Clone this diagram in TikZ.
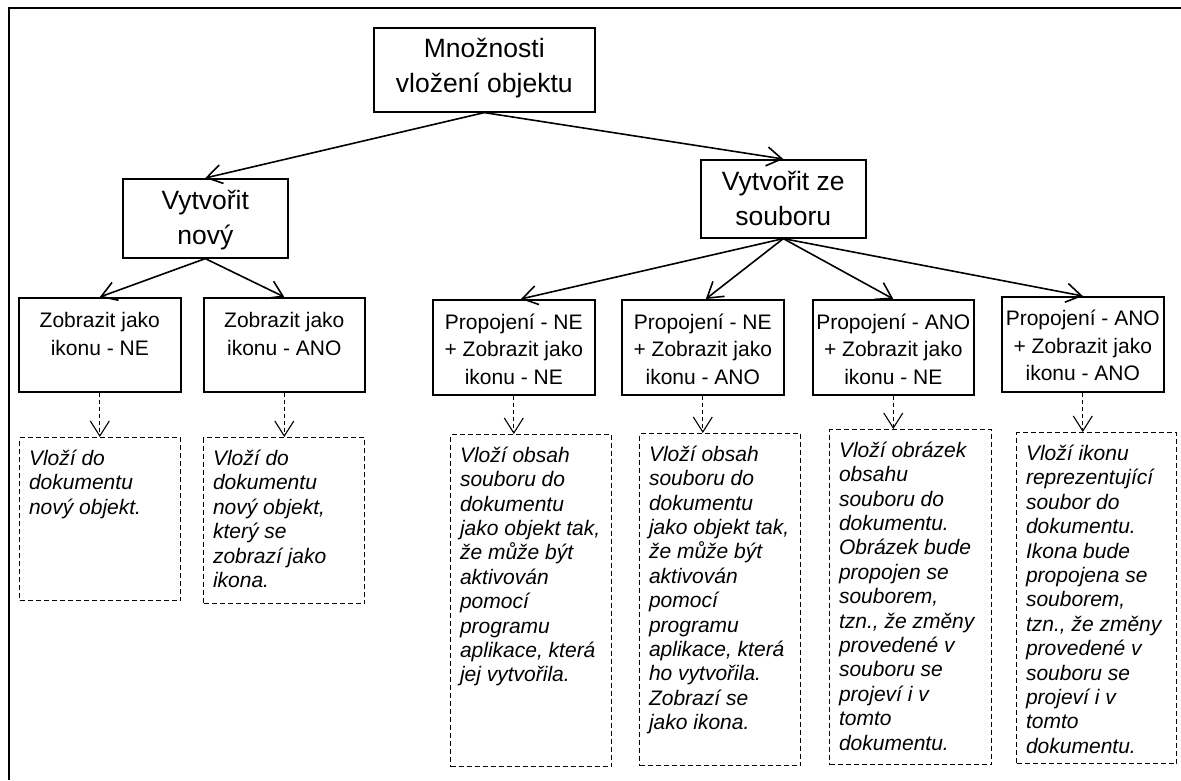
\documentclass[tikz,border=0pt]{standalone}
\usepackage{fontspec}
\setmainfont{Liberation Sans}
\usetikzlibrary{arrows.meta}

\newcommand{\boxtext}[4]{\parbox[c][#2pt][t]{#1pt}{\centering\rule{0pt}{#3pt}#4}}
\newcommand{\notetext}[4]{\parbox[c][#2pt][t]{#1pt}{\raggedright\leftskip=9.5pt\rule{0pt}{#3pt}#4}}

\begin{document}
\begin{tikzpicture}[x=1pt, y=-1pt, >={Straight Barb[length=15pt,width=19pt]},
      every node/.append style={anchor=north west,inner sep=0pt}]
    \tikzstyle{topic} = [draw,line width=1.6pt,font=\fontsize{26.5}{35}\selectfont]
    \tikzstyle{choice} = [draw,line width=1.6pt,font=\fontsize{21}{27.5}\selectfont]
    \tikzstyle{effect} = [draw,line width=1.1pt,dash pattern=on 5pt off 3pt,font=\fontsize{21}{24.4}\selectfont\itshape]
    \tikzstyle{link} = [->,line width=1.6pt]
    \tikzstyle{result} = [->,line width=1.1pt,dash pattern=on 4pt off 3pt]
    \useasboundingbox (0,0) rectangle (1181,780);
    \draw[line width=2.7pt] (9,780) -- (9,8) -- (1181,8);
    \node (root) [topic] at (373,27) {\boxtext{221}{84}{29.4}{Množnosti\\vložení objektu}};
    \node (new) [topic] at (122,178) {\boxtext{165}{79}{31}{Vytvořit\\nový}};
    \node (file) [topic] at (700,159) {\boxtext{165}{78}{30.3}{Vytvořit ze\\souboru}};
    \node (newplain) [choice] at (18,297) {\boxtext{162}{94}{29.7}{Zobrazit jako\\ikonu - NE}};
    \node (newicon) [choice] at (203,297) {\boxtext{161}{94}{29.7}{Zobrazit jako\\ikonu - ANO}};
    \node (fileplain) [choice] at (432,299) {\boxtext{162}{95}{29.3}{Propojení - NE\\+ Zobrazit jako\\ikonu - NE}};
    \node (fileicon) [choice] at (621,299) {\boxtext{162}{95}{29.3}{Propojení - NE\\+ Zobrazit jako\\ikonu - ANO}};
    \node (linkplain) [choice] at (812,299) {\boxtext{161}{95}{29.3}{Propojení - ANO\\+ Zobrazit jako\\ikonu - NE}};
    \node (linkicon) [choice] at (1001,296) {\boxtext{162}{95}{29}{Propojení - ANO\\+ Zobrazit jako\\ikonu - ANO}};
    \node (newplainnote) [effect] at (19,437) {\notetext{161}{163}{28}{Vloží do\\dokumentu\\nový objekt.}};
    \node (newiconnote) [effect] at (203,437) {\notetext{161}{166}{28}{Vloží do\\dokumentu\\nový objekt,\\který se\\zobrazí jako\\ikona.}};
    \node (fileplainnote) [effect] at (450,434) {\notetext{161}{332}{27.7}{Vloží obsah\\souboru do\\dokumentu\\jako objekt tak,\\že může být\\aktivován\\pomocí\\programu\\aplikace,  která\\jej vytvořila.}};
    \node (fileiconnote) [effect] at (639,433) {\notetext{161}{332}{27.7}{Vloží obsah\\souboru do\\dokumentu\\jako objekt tak,\\že může být\\aktivován\\pomocí\\programu\\aplikace, která\\ho vytvořila.\\Zobrazí se\\jako ikona.}};
    \node (linkplainnote) [effect] at (829,429) {\notetext{162}{335}{27.7}{Vloží obrázek\\obsahu\\souboru do\\dokumentu.\\Obrázek bude\\propojen se\\souborem,\\tzn., že změny\\provedené v\\souboru se\\projeví i v\\tomto\\dokumentu.}};
    \node (linkiconnote) [effect] at (1016,432) {\notetext{160}{331}{28}{Vloží ikonu\\reprezentující\\soubor do\\dokumentu.\\Ikona bude\\propojena se\\souborem,\\tzn., že změny\\provedené v\\souboru se\\projeví i v\\tomto\\dokumentu.}};
    \draw[link] (root.south) -- (new.north);
    \draw[link] (root.south) -- (file.north);
    \draw[link] (new.south) -- (newplain.north);
    \draw[link] (new.south) -- (newicon.north);
    \draw[link] (file.south) -- ([xshift=7pt]fileplain.north);
    \draw[link] (file.south) -- ([xshift=3pt]fileicon.north);
    \draw[link] (file.south) -- (linkplain.north);
    \draw[link] (file.south) -- (linkicon.north);
    \foreach \n in {newplain,newicon,fileplain,fileicon,linkplain,linkicon}
      \draw[result] (\n.south) -- (\n.south |- \n note.north);
  \end{tikzpicture}
\end{document}
